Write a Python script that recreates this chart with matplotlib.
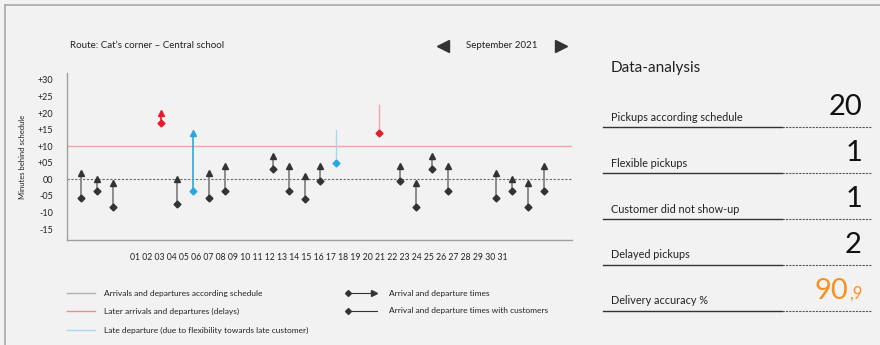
import matplotlib.pyplot as plt
import matplotlib as mpl
import numpy as np

mpl.rcParams['font.family'] = ['Lato', 'DejaVu Sans']
mpl.rcParams['axes.unicode_minus'] = False

# days with a ride, arrival (diamond) and departure (top of line), minutes behind schedule
days = [1, 2, 3, 6, 7, 8, 9, 10, 13, 14, 15, 16, 17, 19.7, 21, 22, 23, 24, 27, 28, 29, 30]
arrival = [-5.5, -3.5, -8.5, 17, -7.5, -3.5, -5.5, -3.5, 3, -3.5, -6, -0.5, 5, 14,
           -0.5, -8.5, 3, -3.5, -5.5, -3.5, -8.5, -3.5]
departure = [2, 0, -1, 20, 0, 14, 2, 4, 7, 4, 1, 4, 15, 22.5,
             4, -1, 7, 4, 2, 0, -1, 4]
kind = ['ok', 'ok', 'ok', 'delay', 'ok', 'flex', 'ok', 'ok', 'ok', 'ok', 'ok', 'ok', 'flex_open', 'delay_open',
        'ok', 'ok', 'ok', 'ok', 'ok', 'ok', 'ok', 'ok']

yticks = [30, 25, 20, 15, 10, 5, 0, -5, -10, -15]
ytick_labels = ['+30', '+25', '+20', '+15', '+10', '+05', '00', '-05', '-10', '-15']
day_labels = ['%02d' % d for d in range(1, 32)]

stat_names = ['Pickups according schedule', 'Flexible pickups', 'Customer did not show-up',
              'Delayed pickups', 'Delivery accuracy %']
stat_values = ['20', '1', '1', '2', '90']
accuracy_decimal = ',9'

bg = '#f2f2f2'
dark = '#333333'
red = '#e8192c'
light_red = '#f3a3a9'
blue = '#29a8e0'
light_blue = '#a6d9f1'
orange = '#f7901e'

W, H = 880, 345
fig = plt.figure(figsize=(W / 100, H / 100), dpi=100, facecolor=bg)

# overlay in pixel coordinates for frame, texts and legend
ov = fig.add_axes([0, 0, 1, 1], zorder=0)
ov.set_xlim(0, W)
ov.set_ylim(H, 0)
ov.axis('off')
ov.set_facecolor(bg)

ov.plot([5, W], [5, 5], color='#a8a8a8', lw=1.2)
ov.plot([5, 5], [5, H], color='#a8a8a8', lw=1.2)

# header
ov.text(70, 46, 'Route: Cat\u2019s corner \u2013 Central school', fontsize=7, color='#222222', va='center')
ov.plot([443], [46], marker='<', ms=8, color=dark)
ov.plot([561], [46], marker='>', ms=8, color=dark)
ov.text(502, 46, 'September 2021', fontsize=7, color='#222222', va='center', ha='center')

# main chart
ax = fig.add_axes([67 / W, 1 - 240.3 / H, (571.5 - 67) / W, (240.3 - 73.3) / H], zorder=1)
ax.patch.set_alpha(0)
ax.set_xlim(0.1, 31.75)
ax.set_ylim(-18.4, 32)
for s in ['top', 'right']:
    ax.spines[s].set_visible(False)
for s in ['left', 'bottom']:
    ax.spines[s].set_color('#a0a0a0')
    ax.spines[s].set_linewidth(1)
ax.set_xticks([])
ax.set_yticks(yticks)
ax.set_yticklabels(ytick_labels, fontsize=6.5, color='#222222')
ax.tick_params(axis='y', length=0, pad=10)
ax.set_ylabel('Minutes behind schedule', fontsize=5.5, color='#222222', labelpad=8)

ax.axhline(10, color=light_red, lw=1)
ax.axhline(0, color='#666666', lw=0.8, ls=(0, (2, 1.5)))

for d, a, t, k in zip(days, arrival, departure, kind):
    if k == 'ok':
        ax.plot([d, d], [a, t], color='#858585', lw=1.3, zorder=2)
        ax.plot(d, t, marker='^', ms=5, color=dark, zorder=3)
        ax.plot(d, a, marker='D', ms=3.5, color=dark, zorder=3)
    elif k == 'delay':
        ax.plot([d, d], [a, t], color=red, lw=1.2, zorder=2)
        ax.plot(d, t, marker='^', ms=5, color=red, zorder=3)
        ax.plot(d, a, marker='D', ms=3.5, color=red, zorder=3)
    elif k == 'flex':
        ax.plot([d, d], [a, t], color=blue, lw=1.2, zorder=2)
        ax.plot(d, t, marker='^', ms=5, color=blue, zorder=3)
        ax.plot(d, a, marker='D', ms=3.5, color=blue, zorder=3)
    elif k == 'delay_open':
        ax.plot([d, d], [a, t], color=light_red, lw=1, zorder=2)
        ax.plot(d, a, marker='D', ms=3.5, color=red, zorder=3)
    elif k == 'flex_open':
        ax.plot([d, d], [a, t], color=light_blue, lw=1, zorder=2)
        ax.plot(d, a, marker='D', ms=3.5, color=blue, zorder=3)

ov.text(319, 258, ' '.join(day_labels), fontsize=6.2, color='#222222', ha='center', va='center')

# legend
legend_rows = [293.3, 311, 330]
for y, c, txt in zip(legend_rows,
                     ['#b0b0b0', '#f08a92', light_blue],
                     ['Arrivals and departures according schedule',
                      'Later arrivals and departures (delays)',
                      'Late departure (due to flexibility towards late customer)']):
    ov.plot([67, 95], [y, y], color=c, lw=1)
    ov.text(104.5, y, txt, fontsize=6, color='#222222', va='center')

ov.plot([348, 372], [293.3, 293.3], color=dark, lw=0.8)
ov.plot(348, 293.3, marker='D', ms=3, color=dark)
ov.plot(374, 293.3, marker='>', ms=4, color=dark)
ov.text(389, 293.3, 'Arrival and departure times', fontsize=6, color='#222222', va='center')
ov.plot([348, 377], [311, 311], color=dark, lw=0.8)
ov.plot(348, 311, marker='D', ms=3, color=dark)
ov.text(389, 311, 'Arrival and departure times with customers', fontsize=6, color='#222222', va='center')

# data-analysis panel
ov.text(611, 68, 'Data-analysis', fontsize=11, color='#222222', va='center')
row_lines = [127.3, 173.3, 219.3, 265, 310.7]
for i, (name, val, y) in enumerate(zip(stat_names, stat_values, row_lines)):
    ov.plot([603, 781.7], [y, y], color=dark, lw=1)
    ov.plot([781.7, 870.7], [y, y], color='#555555', lw=0.8, ls=(0, (2, 1)))
    ov.text(611, y - 10, name, fontsize=7.8, color='#222222', va='center')
    if i < len(stat_names) - 1:
        ov.text(862, y - 12, val, fontsize=21, color='#111111', ha='right', va='baseline')
    else:
        ov.text(848, y - 12, val, fontsize=21, color=orange, ha='right', va='baseline')
        ov.text(849, y - 12, accuracy_decimal, fontsize=12, color=orange, ha='left', va='baseline')

fig.savefig('out.png', dpi=100, facecolor=bg)
